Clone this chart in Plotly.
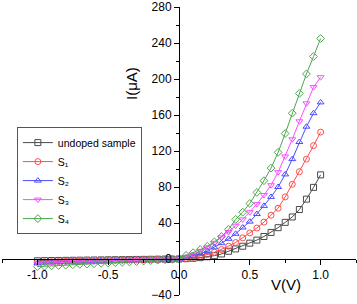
import plotly.graph_objects as go

voltage = [-1.0, -0.95, -0.9, -0.85, -0.8, -0.75, -0.7, -0.65, -0.6, -0.55,
           -0.5, -0.45, -0.4, -0.35, -0.3, -0.25, -0.2, -0.15, -0.1, -0.05,
           0.0, 0.05, 0.1, 0.15, 0.2, 0.25, 0.3, 0.35, 0.4, 0.45,
           0.5, 0.55, 0.6, 0.65, 0.7, 0.75, 0.8, 0.85, 0.9, 0.95, 1.0]

undoped = [-2.0, -1.8, -1.7, -1.6, -1.5, -1.4, -1.3, -1.2, -1.1, -1.0,
           -0.9, -0.8, -0.7, -0.6, -0.5, -0.4, -0.3, -0.2, -0.15, -0.1,
           0, 0.3, 0.8, 1.5, 2.5, 3.7, 5.6, 8.6, 11.2, 14.2,
           17.6, 21, 25, 29.5, 34.8, 40.7, 46.7, 55, 66.5, 79.6, 93.5]
s1 = [-3.5, -3.2, -3.0, -2.8, -2.6, -2.4, -2.2, -2.0, -1.9, -1.7,
      -1.5, -1.3, -1.1, -1.0, -0.8, -0.7, -0.5, -0.4, -0.3, -0.15,
      0, 0.8, 1.8, 3, 5, 7.5, 10.5, 14.2, 18.3, 23.5,
      29, 34.4, 41, 48.6, 56.4, 69, 83, 97, 111, 126, 141]
s2 = [-4.5, -4.0, -3.7, -3.4, -3.1, -2.9, -2.7, -2.5, -2.3, -2.1,
      -1.9, -1.7, -1.5, -1.3, -1.1, -0.9, -0.7, -0.5, -0.35, -0.2,
      0, 1.5, 3.5, 6, 9, 13, 17.6, 22.4, 28, 35,
      41.5, 50, 59, 69, 80, 94, 111, 130, 147, 162, 174]
s3 = [-5.0, -4.6, -4.2, -3.9, -3.6, -3.3, -3.0, -2.8, -2.6, -2.4,
      -2.2, -2.0, -1.8, -1.6, -1.4, -1.1, -0.9, -0.6, -0.4, -0.2,
      0, 2.5, 5, 9, 13, 18, 24, 30, 37, 44,
      52, 61, 71, 82, 96.5, 114, 133, 153, 173, 191, 202]
s4 = [-8.5, -8.0, -7.6, -7.2, -6.8, -6.4, -6.0, -5.6, -5.2, -4.8,
      -4.4, -4.0, -3.6, -3.2, -2.8, -2.3, -1.8, -1.3, -0.8, -0.4,
      0, 4, 7, 10.5, 14, 19, 25, 33, 44, 52,
      61.7, 74, 87, 101, 118.5, 139.4, 162, 184, 205.6, 225, 245]

names = ["undoped sample", "S\u2081", "S\u2082", "S\u2083", "S\u2084"]
series = [undoped, s1, s2, s3, s4]
colors = ["#4a4a4a", "#ff4d4d", "#4d4dff", "#ff4dff", "#4da64d"]
symbols = ["square-open", "circle-open", "triangle-up-open", "triangle-down-open", "diamond-open"]

x_range = [-1.25, 1.25]
y_range = [-40, 280]
x_ticks = [-1.0, -0.5, 0.0, 0.5, 1.0]
y_ticks = [-40, 0, 40, 80, 120, 160, 200, 240, 280]

fig = go.Figure()
for name, ys, c, s in zip(names, series, colors, symbols):
    fig.add_trace(go.Scatter(
        x=voltage, y=ys, name=name, mode="lines+markers",
        line=dict(color=c, width=1),
        marker=dict(symbol=s, size=6, color=c, line=dict(color=c, width=1)),
    ))

xpos = (0 - x_range[0]) / (x_range[1] - x_range[0])
ypos = (0 - y_range[0]) / (y_range[1] - y_range[0])

font = "Liberation Sans, Arial, sans-serif"
fig.update_layout(
    width=357, height=304,
    margin=dict(l=2, r=1, t=7, b=9, autoexpand=False),
    paper_bgcolor="white", plot_bgcolor="white",
    font=dict(family=font, size=12, color="black"),
    showlegend=True,
    legend=dict(x=0.042, y=0.583, xanchor="left", yanchor="top",
                bordercolor="#555555", borderwidth=1, bgcolor="white",
                font=dict(size=10.5), tracegroupgap=0),
    xaxis=dict(range=x_range, anchor="free", position=ypos,
               showline=True, linecolor="black", linewidth=1,
               showgrid=False, zeroline=False,
               tickvals=x_ticks, ticktext=[f"{v:.1f}" for v in x_ticks],
               ticks="outside", ticklen=5, tickcolor="black",
               minor=dict(ticks="outside", ticklen=3, dtick=0.25, tick0=0, tickcolor="black"),
               tickfont=dict(size=12)),
    yaxis=dict(range=y_range, anchor="free", position=xpos, side="left",
               showline=True, linecolor="black", linewidth=1,
               showgrid=False, zeroline=False,
               tickvals=y_ticks,
               ticks="outside", ticklen=5, tickcolor="black",
               minor=dict(ticks="outside", ticklen=3, dtick=20, tick0=0, tickcolor="black"),
               tickfont=dict(size=12)),
    annotations=[
        dict(text="I(\u03bcA)", xref="paper", yref="paper", x=0.364, y=0.80,
             textangle=-90, showarrow=False, font=dict(size=15)),
        dict(text="V(V)", xref="paper", yref="paper", x=0.85, y=0.0,
             showarrow=False, font=dict(size=15)),
    ],
)

fig.write_html("out.html", config={"displayModeBar": False},
               post_script="document.body.style.margin='0';document.body.style.overflow='hidden';")
